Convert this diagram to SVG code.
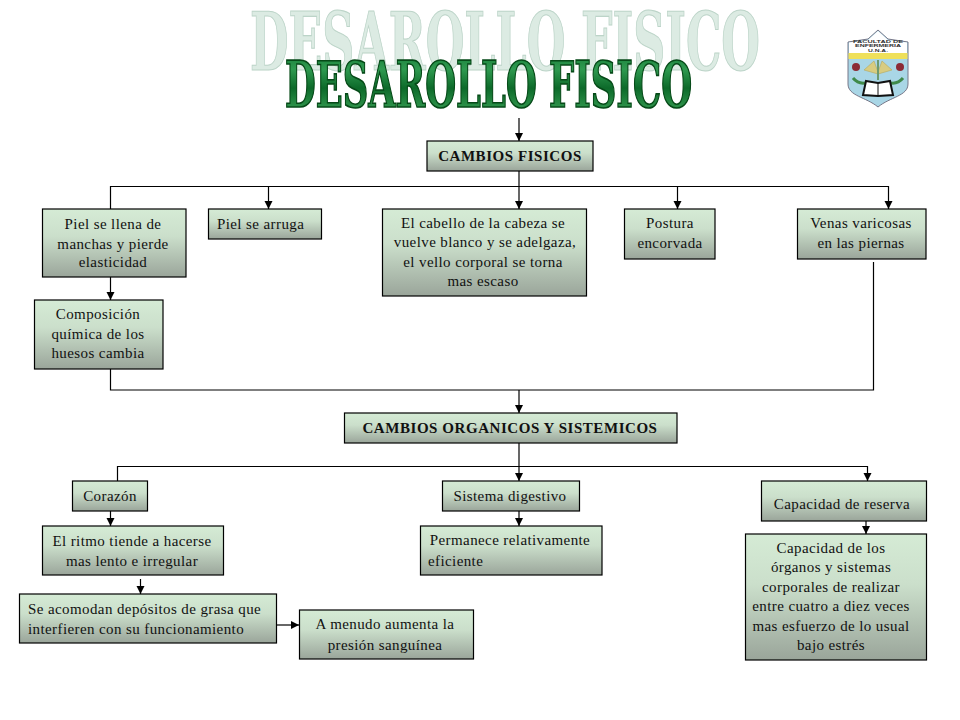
<svg xmlns="http://www.w3.org/2000/svg" width="960" height="720" viewBox="0 0 960 720">
<style>
.b{fill:url(#g);stroke:#000;stroke-width:1.2}
.t{font-family:"Liberation Serif","Times New Roman",serif;font-size:15px;fill:#111;text-anchor:middle;letter-spacing:.4px}
.l{text-anchor:start}
.h{font-weight:bold;letter-spacing:.55px}
.c{fill:none;stroke:#000;stroke-width:1.2}
.w{font-family:"DejaVu Serif Condensed","DejaVu Serif","Liberation Serif",serif;font-weight:bold;font-size:60px}
.s{font-family:"Liberation Sans",Arial,sans-serif;font-size:3.6px;font-weight:bold;text-anchor:middle;fill:#333}
</style>
<defs>
<linearGradient id="g" x1="0" y1="0" x2="0" y2="1"><stop offset="0" stop-color="#d5ebd5"/><stop offset=".4" stop-color="#cbdfcb"/><stop offset="1" stop-color="#9aa59a"/></linearGradient>
<linearGradient id="wg" x1="0" y1="0" x2="0" y2="1"><stop offset="0" stop-color="#0f7430"/><stop offset=".3" stop-color="#2f9a50"/><stop offset=".55" stop-color="#0d6a2a"/><stop offset=".8" stop-color="#2c9149"/><stop offset="1" stop-color="#0a5a20"/></linearGradient>
<marker id="a" markerWidth="9" markerHeight="9" refX="8" refY="4" orient="auto" markerUnits="userSpaceOnUse"><path d="M0 0L8 4L0 8z" fill="#000"/></marker>
</defs>
<g id="title">
<text class="w" transform="translate(250 69.500) scale(1 1.33)" textLength="510" lengthAdjust="spacingAndGlyphs" fill="#dcebe3" stroke="#bcd4c8" stroke-width=".8">DESAROLLO FISICO</text>
<text class="w" transform="translate(285 106.500) scale(1 1.07)" textLength="407" lengthAdjust="spacingAndGlyphs" fill="url(#wg)" stroke="#064a18" stroke-width="1.6">DESAROLLO FISICO</text>
</g>
<g id="logo">
<path d="M848 42L868 39L878 30L888 39L908 42V84C908 96 890 97 878 107C866 97 848 96 848 84Z" fill="#a9d6e6" stroke="#778" stroke-width="1"/>
<path d="M849 42.500L868 40L878 31L888 40L907 42.500V53H849Z" fill="#fff"/>
<rect x="848.500" y="53" width="59" height="6" fill="#efe05a"/>
<text class="s" x="878" y="42.800" textLength="50" lengthAdjust="spacingAndGlyphs">FACULTAD DE</text>
<text class="s" x="878" y="47.400" textLength="46" lengthAdjust="spacingAndGlyphs">ENFERMERIA</text>
<text class="s" x="878" y="52" textLength="20" lengthAdjust="spacingAndGlyphs">U.N.A.</text>
<path d="M864 70L874 61L878 72L882 61L892 70L878 74Z" fill="#d8cc80" stroke="#b5a85a" stroke-width=".6"/>
<path d="M878 60V80" stroke="#6d9a70" stroke-width="2"/>
<circle cx="856" cy="67" r="4" fill="#8c2a35"/><circle cx="900" cy="67" r="4" fill="#8c2a35"/>
<path d="M853 78Q858 84 865 83M903 78Q898 84 891 83" stroke="#3f8a4a" stroke-width="3" fill="none"/>
<path d="M866 81L878 83L890 81L893 95L878 96L863 95Z" fill="#fff" stroke="#111" stroke-width="2"/>
<path d="M878 83V96" stroke="#111"/>
</g>
<g id="connectors">
<path class="c" d="M519 118V141" marker-end="url(#a)"/>
<path class="c" d="M519 171V209" marker-end="url(#a)"/>
<path class="c" d="M110.500 209V186.500H888.500V209" marker-end="url(#a)"/>
<path class="c" d="M268.500 186.500V209" marker-end="url(#a)"/>
<path class="c" d="M677.500 186.500V209" marker-end="url(#a)"/>
<path class="c" d="M110.500 277V300" marker-end="url(#a)"/>
<path class="c" d="M110.500 369V390H873.500V262"/>
<path class="c" d="M519 390V413" marker-end="url(#a)"/>
<path class="c" d="M519 443V481" marker-end="url(#a)"/>
<path class="c" d="M117.500 481V466.500H867.500V481" marker-end="url(#a)"/>
<path class="c" d="M110.500 511V526" marker-end="url(#a)"/>
<path class="c" d="M519 511V526" marker-end="url(#a)"/>
<path class="c" d="M866 521V534" marker-end="url(#a)"/>
<path class="c" d="M140.500 579V594" marker-end="url(#a)"/>
<path class="c" d="M276 625H299" marker-end="url(#a)"/>
</g>
<g id="n1"><rect class="b" x="427" y="141" width="166" height="30"/><text class="t h" x="510" y="161">CAMBIOS FISICOS</text></g>
<g id="n2"><rect class="b" x="42.500" y="209" width="143.500" height="68"/><text class="t" x="113" y="229">Piel se llena de</text><text class="t" x="113" y="249">manchas y pierde</text><text class="t" x="113" y="267">elasticidad</text></g>
<g id="n3"><rect class="b" x="208.500" y="209" width="113" height="30"/><text class="t l" x="217" y="229">Piel se arruga</text></g>
<g id="n4"><rect class="b" x="382.500" y="209" width="204" height="87"/><text class="t" x="483" y="228">El cabello de la cabeza se</text><text class="t" x="485" y="247">vuelve blanco y se adelgaza,</text><text class="t" x="483" y="267">el vello corporal se torna</text><text class="t" x="483" y="286">mas escaso</text></g>
<g id="n5"><rect class="b" x="624.500" y="209" width="90.500" height="50"/><text class="t" x="670" y="228">Postura</text><text class="t" x="670" y="248">encorvada</text></g>
<g id="n6"><rect class="b" x="797.500" y="209" width="128.500" height="50"/><text class="t" x="861" y="228">Venas varicosas</text><text class="t" x="861" y="248">en las piernas</text></g>
<g id="n7"><rect class="b" x="34.500" y="300" width="128.500" height="69"/><text class="t" x="98" y="319">Composición</text><text class="t" x="98" y="339">química de los</text><text class="t" x="98" y="358">huesos cambia</text></g>
<g id="n8"><rect class="b" x="344.500" y="413" width="332.500" height="30"/><text class="t h" x="510" y="433">CAMBIOS ORGANICOS Y SISTEMICOS</text></g>
<g id="n9"><rect class="b" x="72.500" y="481" width="75" height="30"/><text class="t" x="110" y="501">Corazón</text></g>
<g id="n10"><rect class="b" x="442.500" y="481" width="137" height="30"/><text class="t" x="510" y="501">Sistema digestivo</text></g>
<g id="n11"><rect class="b" x="761.500" y="481" width="165" height="40"/><text class="t" x="842" y="509">Capacidad de reserva</text></g>
<g id="n12"><rect class="b" x="42.500" y="526" width="181" height="49"/><text class="t" x="132" y="546">El ritmo tiende a hacerse</text><text class="t" x="132" y="566">mas lento e irregular</text></g>
<g id="n13"><rect class="b" x="420.500" y="526" width="181.500" height="49"/><text class="t" x="510" y="545">Permanece relativamente</text><text class="t l" x="428" y="566">eficiente</text></g>
<g id="n14"><rect class="b" x="745.500" y="534" width="181" height="126"/><text class="t" x="831" y="553">Capacidad de los</text><text class="t" x="831" y="572">órganos y sistemas</text><text class="t" x="831" y="592">corporales de realizar</text><text class="t" x="831" y="611">entre cuatro a diez veces</text><text class="t" x="831" y="631">mas esfuerzo de lo usual</text><text class="t" x="831" y="650">bajo estrés</text></g>
<g id="n15"><rect class="b" x="19.500" y="594" width="257" height="49"/><text class="t l" x="28" y="614">Se acomodan depósitos de grasa que</text><text class="t l" x="28" y="634">interfieren con su funcionamiento</text></g>
<g id="n16"><rect class="b" x="299.500" y="610" width="174" height="49"/><text class="t" x="385" y="629">A menudo aumenta la</text><text class="t" x="385" y="650">presión sanguínea</text></g>
</svg>
